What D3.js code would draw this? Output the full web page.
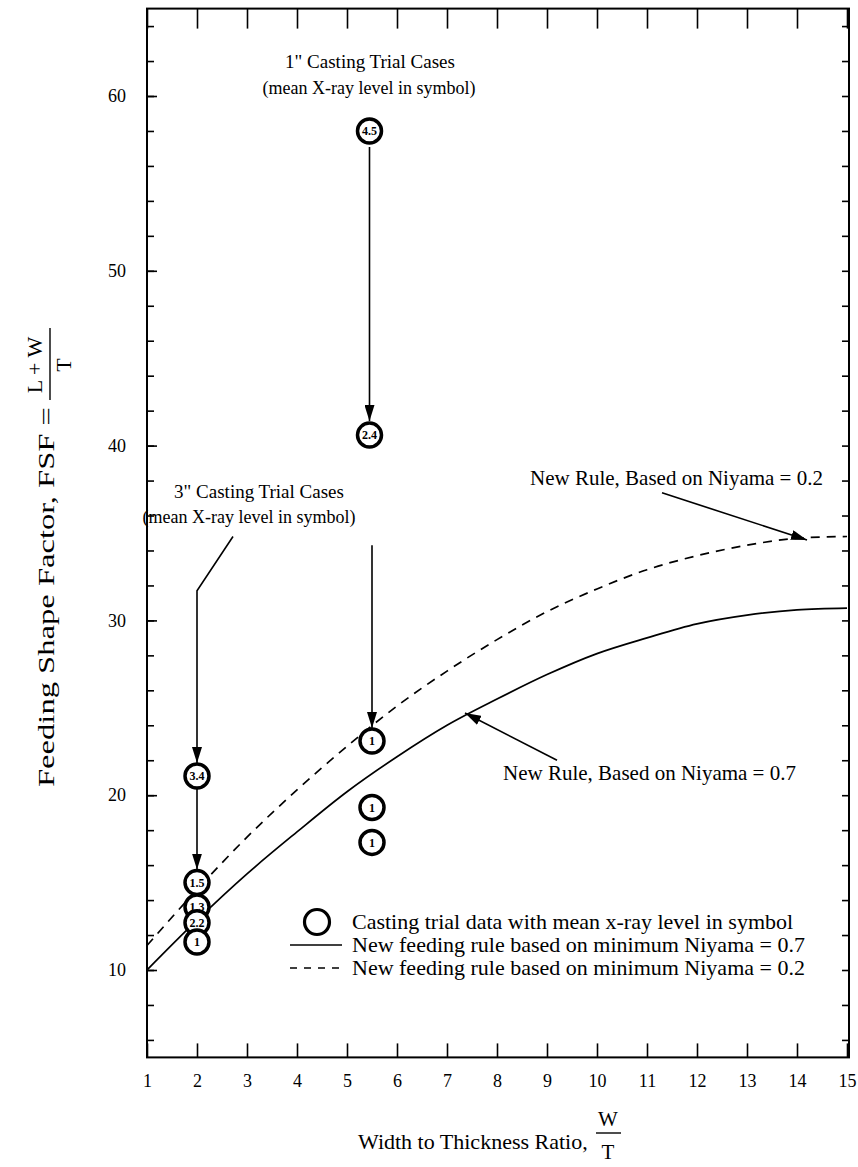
<!DOCTYPE html>
<html>
<head>
<meta charset="utf-8">
<script src="https://cdn.jsdelivr.net/npm/d3@7/dist/d3.min.js"></script>
<style>
  html, body { margin: 0; padding: 0; background: #fff; }
  svg text { font-family: "Liberation Serif", "Times New Roman", serif; fill: #000; }
</style>
</head>
<body>
<svg id="chart" width="858" height="1167"></svg>
<script>
// Width-to-thickness ratio at which the rule curves are tabulated
const ruleRatios = [1, 2, 3, 4, 5, 6, 7, 8, 9, 10, 11, 12, 13, 14, 15];
// New feeding rule, minimum Niyama = 0.7 (solid)
const ruleNiyama07 = [10.0, 12.85, 15.5, 17.9, 20.2, 22.2, 24.0, 25.5, 26.9, 28.1, 29.0, 29.8, 30.3, 30.6, 30.7];
// New feeding rule, minimum Niyama = 0.2 (dashed)
const ruleNiyama02 = [11.4, 14.6, 17.6, 20.3, 22.8, 25.1, 27.1, 28.9, 30.5, 31.8, 32.9, 33.7, 34.3, 34.7, 34.8];

// 3" casting trials
const trials3inRatio = [2, 2, 2, 2, 2];
const trials3inFSF = [21.1, 15.0, 13.6, 12.7, 11.6];
const trials3inXray = ["3.4", "1.5", "1.3", "2.2", "1"];

// 1" casting trials
const trials1inRatio = [5.45, 5.45, 5.5, 5.5, 5.5];
const trials1inFSF = [58.0, 40.6, 23.1, 19.3, 17.3];
const trials1inXray = ["4.5", "2.4", "1", "1", "1"];

const xTicks = d3.range(1, 16);
const yMajorTicks = [10, 20, 30, 40, 50, 60];
const yMinorTicks = d3.range(6, 65, 2);

const svg = d3.select("#chart");
const x = d3.scaleLinear().domain([1, 15]).range([147, 847]);
const y = d3.scaleLinear().domain([5, 65]).range([1057.4, 8.6]);

const FONT = 18;

// arrowhead marker
const defs = svg.append("defs");
defs.append("marker")
  .attr("id", "head")
  .attr("viewBox", "0 0 16 10")
  .attr("refX", 16).attr("refY", 5)
  .attr("markerWidth", 16).attr("markerHeight", 10)
  .attr("markerUnits", "userSpaceOnUse")
  .attr("orient", "auto")
  .append("path").attr("d", "M0,0 L16,5 L0,10 Z").attr("fill", "#000");

// ---- frame and axes ----
const plot = svg.append("g");

function styleAxis(g) {
  g.select(".domain").remove();
  g.selectAll(".tick line").attr("stroke", "#000").attr("stroke-width", 1.6);
  g.selectAll(".tick text").attr("font-size", FONT).attr("font-family", "Liberation Serif, serif");
}

plot.append("g")
  .attr("transform", `translate(0,${y(5)})`)
  .call(d3.axisBottom(x).tickValues(xTicks).tickSize(-14).tickPadding(17).tickFormat(d3.format("d")))
  .call(styleAxis);

plot.append("g")
  .attr("transform", `translate(0,${y(65)})`)
  .call(d3.axisTop(x).tickValues(xTicks).tickSize(-20).tickFormat(""))
  .call(styleAxis);

plot.append("g")
  .attr("transform", `translate(${x(1)},0)`)
  .call(d3.axisLeft(y).tickValues(yMinorTicks).tickSize(-7).tickFormat(""))
  .call(styleAxis);
plot.append("g")
  .attr("transform", `translate(${x(1)},0)`)
  .call(d3.axisLeft(y).tickValues(yMajorTicks).tickSize(-10).tickPadding(21).tickFormat(d3.format("d")))
  .call(styleAxis);

plot.append("g")
  .attr("transform", `translate(${x(15) + 2},0)`)
  .call(d3.axisRight(y).tickValues(yMinorTicks).tickSize(-7).tickFormat(""))
  .call(styleAxis);

plot.append("rect")
  .attr("x", x(1)).attr("y", y(65))
  .attr("width", x(15) + 2 - x(1)).attr("height", y(5) - y(65))
  .attr("fill", "none").attr("stroke", "#000").attr("stroke-width", 2);

// ---- rule curves ----
const line = d3.line().curve(d3.curveMonotoneX);
const solidPts = ruleRatios.map((r, i) => [x(r), y(ruleNiyama07[i])]);
const dashPts = ruleRatios.map((r, i) => [x(r), y(ruleNiyama02[i])]);

plot.append("path").attr("d", line(solidPts))
  .attr("fill", "none").attr("stroke", "#000").attr("stroke-width", 1.7);
plot.append("path").attr("d", line(dashPts))
  .attr("fill", "none").attr("stroke", "#000").attr("stroke-width", 1.7)
  .attr("stroke-dasharray", "9,7");

// ---- annotation arrows ----
function arrow(points) {
  plot.append("path")
    .attr("d", d3.line()(points))
    .attr("fill", "none").attr("stroke", "#000").attr("stroke-width", 1.6)
    .attr("marker-end", "url(#head)");
}
const R = 12;
// 1" trials: 4.5 -> 2.4
arrow([[x(trials1inRatio[0]), y(trials1inFSF[0]) + R + 4], [x(trials1inRatio[1]), y(trials1inFSF[1]) - R - 2]]);
// 1" trials: second set, toward 23.1
arrow([[x(trials1inRatio[2]), y(34.3)], [x(trials1inRatio[2]), y(trials1inFSF[2]) - R - 1]]);
// 3" trials label leader
arrow([[x(2.72), y(34.8)], [x(2), y(31.7)], [x(2), y(trials3inFSF[0]) - R - 1]]);
// 3" trials: 3.4 -> 1.5
arrow([[x(2), y(trials3inFSF[0]) + R + 1], [x(2), y(trials3inFSF[1]) - R - 1]]);
// Niyama labels
arrow([[x(11.3), y(37.3)], [x(14.2), y(34.6)]]);
arrow([[x(9.2), y(22.0)], [x(7.36), y(24.7)]]);

// ---- trial symbols ----
function drawTrials(rx, fsf, lab) {
  rx.forEach((r, i) => {
    const g = plot.append("g").attr("transform", `translate(${x(r)},${y(fsf[i])})`);
    g.append("circle").attr("r", R)
      .attr("fill", "#fff").attr("stroke", "#000").attr("stroke-width", 3.5);
    g.append("text").text(lab[i])
      .attr("text-anchor", "middle").attr("dy", "0.35em")
      .attr("font-size", 12).attr("font-weight", "bold");
  });
}
drawTrials(trials1inRatio, trials1inFSF, trials1inXray);
drawTrials(trials3inRatio, trials3inFSF, trials3inXray);

// ---- text annotations ----
function label(txt, px, py, anchor, size) {
  plot.append("text").text(txt)
    .attr("x", px).attr("y", py)
    .attr("text-anchor", anchor || "middle")
    .attr("font-size", size || FONT);
}
label("1\" Casting Trial Cases", 370, 68, "middle", 19);
label("(mean X-ray level in symbol)", 369, 94, "middle", 18);
label("3\" Casting Trial Cases", 259, 498, "middle", 19);
label("(mean X-ray level in symbol)", 249, 523, "middle", 18);
label("New Rule, Based on Niyama = 0.2", 530, 485, "start", 21);
label("New Rule, Based on Niyama = 0.7", 503, 780, "start", 21);

// ---- legend ----
const lg = plot.append("g");
lg.append("circle").attr("cx", 317).attr("cy", 922).attr("r", 12.5)
  .attr("fill", "#fff").attr("stroke", "#000").attr("stroke-width", 3.2);
lg.append("line").attr("x1", 290).attr("x2", 342).attr("y1", 945).attr("y2", 945)
  .attr("stroke", "#000").attr("stroke-width", 1.6);
lg.append("line").attr("x1", 290).attr("x2", 344).attr("y1", 968).attr("y2", 968)
  .attr("stroke", "#000").attr("stroke-width", 1.6).attr("stroke-dasharray", "7,7");
const legendText = [
  "Casting trial data with mean x-ray level in symbol",
  "New feeding rule based on minimum Niyama = 0.7",
  "New feeding rule based on minimum Niyama = 0.2"
];
legendText.forEach((t, i) => {
  lg.append("text").text(t).attr("x", 352).attr("y", 929 + i * 23).attr("font-size", 22);
});

// ---- axis titles ----
const xt = svg.append("g");
xt.append("text").text("Width to Thickness Ratio,").attr("x", 358).attr("y", 1149).attr("font-size", 22);
xt.append("text").text("W").attr("x", 608).attr("y", 1126).attr("text-anchor", "middle").attr("font-size", 21);
xt.append("line").attr("x1", 596).attr("x2", 621).attr("y1", 1133).attr("y2", 1133)
  .attr("stroke", "#000").attr("stroke-width", 1.4);
xt.append("text").text("T").attr("x", 608).attr("y", 1159).attr("text-anchor", "middle").attr("font-size", 21);

const yt = svg.append("g").attr("transform", "rotate(-90)");
yt.append("text").text("Feeding Shape Factor, FSF =").attr("x", -787).attr("y", 54).attr("font-size", 23)
  .attr("textLength", 380).attr("lengthAdjust", "spacingAndGlyphs");
yt.append("text").text("L + W").attr("x", -365).attr("y", 42).attr("text-anchor", "middle").attr("font-size", 22);
yt.append("line").attr("x1", -400).attr("x2", -328).attr("y1", 50).attr("y2", 50)
  .attr("stroke", "#000").attr("stroke-width", 1.4);
yt.append("text").text("T").attr("x", -365).attr("y", 71).attr("text-anchor", "middle").attr("font-size", 22);
</script>
</body>
</html>
